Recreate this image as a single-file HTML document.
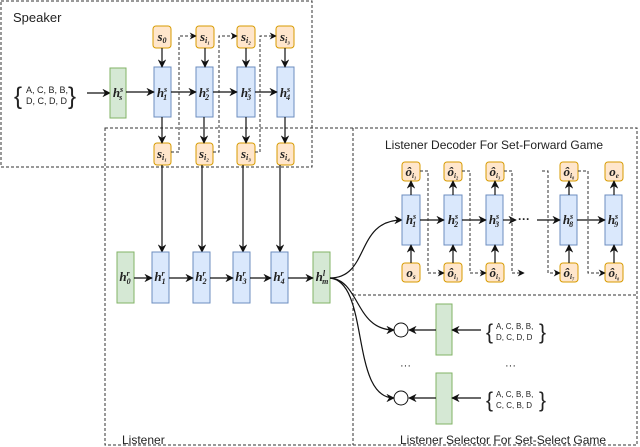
<!DOCTYPE html>
<html><head><meta charset="utf-8"><style>
body{margin:0;background:#fff}
svg{display:block}
text{font-family:"Liberation Sans",sans-serif;fill:#222}
.m{font-family:"Liberation Serif",serif;font-style:italic;font-weight:bold;font-size:13px;text-anchor:middle}
.b{fill:#dae8fc;stroke:#6c8ebf;stroke-width:1}
.g{fill:#d5e8d4;stroke:#82b366;stroke-width:1}
.o{fill:#ffe6cc;stroke:#d79b00;stroke-width:1}
.d{fill:none;stroke:#333;stroke-width:1;stroke-dasharray:3,2}
.l{fill:none;stroke:#111;stroke-width:1.2}
</style></head><body>
<svg width="640" height="447" viewBox="0 0 640 447" xmlns="http://www.w3.org/2000/svg">
<defs><marker id="a" viewBox="0 0 10 10" refX="9" refY="5" markerWidth="7" markerHeight="7" orient="auto"><path d="M0,0L10,5L0,10L3,5z" fill="#111"/></marker></defs>
<rect x="1" y="1" width="311" height="166" class="d"/>
<rect x="105" y="128" width="532" height="317" class="d"/>
<line x1="353" y1="128" x2="353" y2="445" class="d"/>
<line x1="353" y1="295" x2="637" y2="295" class="d"/>
<text x="13" y="22" font-size="13">Speaker</text>
<text x="385" y="149" font-size="12">Listener Decoder For Set-Forward Game</text>
<text x="122" y="444" font-size="12">Listener</text>
<text x="400" y="444" font-size="12">Listener Selector For Set-Select Game</text>
<text x="14" y="104" font-size="24">{</text>
<text x="26" y="93" font-size="9">A, C, B, B,</text>
<text x="26" y="104" font-size="9">D, C, D, D</text>
<text x="68" y="104" font-size="24">}</text>
<line x1="87" y1="93" x2="110" y2="93" class="l" marker-end="url(#a)"/>
<rect x="110" y="68" width="16" height="50" class="g"/><text x="118" y="97" class="m">h<tspan font-size="8" dy="-5">s</tspan><tspan font-size="8" dx="-4" dy="8">s</tspan></text>
<g>
<rect x="154" y="67" width="17" height="50" class="b"/><rect x="196" y="67" width="17" height="50" class="b"/><rect x="237" y="67" width="18" height="50" class="b"/><rect x="277" y="67" width="17" height="50" class="b"/>
<text x="162" y="97" class="m">h<tspan font-size="8" dy="-5">s</tspan><tspan font-size="8" dx="-4" dy="8">1</tspan></text>
<text x="204" y="97" class="m">h<tspan font-size="8" dy="-5">s</tspan><tspan font-size="8" dx="-4" dy="8">2</tspan></text>
<text x="246" y="97" class="m">h<tspan font-size="8" dy="-5">s</tspan><tspan font-size="8" dx="-4" dy="8">3</tspan></text>
<text x="285" y="97" class="m">h<tspan font-size="8" dy="-5">s</tspan><tspan font-size="8" dx="-4" dy="8">4</tspan></text>
<line x1="126" y1="92" x2="154" y2="92" class="l" marker-end="url(#a)"/>
<line x1="171" y1="92" x2="196" y2="92" class="l" marker-end="url(#a)"/>
<line x1="213" y1="92" x2="237" y2="92" class="l" marker-end="url(#a)"/>
<line x1="255" y1="92" x2="277" y2="92" class="l" marker-end="url(#a)"/>
<rect x="153" y="26" width="18" height="22" rx="3" class="o"/><rect x="196" y="26" width="18" height="22" rx="3" class="o"/><rect x="237" y="26" width="18" height="22" rx="3" class="o"/><rect x="276" y="26" width="18" height="22" rx="3" class="o"/>
<text x="162" y="41" class="m">s<tspan font-size="8" dy="2">0</tspan></text>
<text x="205" y="41" class="m">s<tspan font-size="8" dy="2">i₁</tspan></text>
<text x="246" y="41" class="m">s<tspan font-size="8" dy="2">i₂</tspan></text>
<text x="285" y="41" class="m">s<tspan font-size="8" dy="2">i₃</tspan></text>
<line x1="162" y1="48" x2="162" y2="67" class="l" marker-end="url(#a)"/>
<line x1="205" y1="48" x2="205" y2="67" class="l" marker-end="url(#a)"/>
<line x1="246" y1="48" x2="246" y2="67" class="l" marker-end="url(#a)"/>
<line x1="285" y1="48" x2="285" y2="67" class="l" marker-end="url(#a)"/>
<rect x="154" y="143" width="17" height="22" rx="3" class="o"/><rect x="196" y="143" width="17" height="22" rx="3" class="o"/><rect x="237" y="143" width="18" height="22" rx="3" class="o"/><rect x="277" y="143" width="17" height="22" rx="3" class="o"/>
<text x="162" y="158" class="m">s<tspan font-size="8" dy="2">i₁</tspan></text>
<text x="204" y="158" class="m">s<tspan font-size="8" dy="2">i₂</tspan></text>
<text x="246" y="158" class="m">s<tspan font-size="8" dy="2">i₃</tspan></text>
<text x="285" y="158" class="m">s<tspan font-size="8" dy="2">i₄</tspan></text>
<line x1="162" y1="117" x2="162" y2="143" class="l" marker-end="url(#a)"/>
<line x1="204" y1="117" x2="204" y2="143" class="l" marker-end="url(#a)"/>
<line x1="246" y1="117" x2="246" y2="143" class="l" marker-end="url(#a)"/>
<line x1="285" y1="117" x2="285" y2="143" class="l" marker-end="url(#a)"/>
<path d="M171,152H179V36H196" class="d" marker-end="url(#a)"/>
<path d="M213,152H219V36H237" class="d" marker-end="url(#a)"/>
<path d="M255,152H260V36H276" class="d" marker-end="url(#a)"/>
</g>
<line x1="162" y1="165" x2="162" y2="252" class="l" marker-end="url(#a)"/>
<line x1="202" y1="165" x2="202" y2="252" class="l" marker-end="url(#a)"/>
<line x1="243" y1="165" x2="243" y2="252" class="l" marker-end="url(#a)"/>
<line x1="280" y1="165" x2="280" y2="252" class="l" marker-end="url(#a)"/>
<rect x="117" y="252" width="17" height="51" class="g"/><rect x="152" y="252" width="17" height="51" class="b"/><rect x="193" y="252" width="17" height="51" class="b"/><rect x="233" y="252" width="17" height="51" class="b"/><rect x="271" y="252" width="17" height="51" class="b"/><rect x="313" y="252" width="17" height="51" class="g"/>
<text x="125" y="281" class="m">h<tspan font-size="8" dy="-5">r</tspan><tspan font-size="8" dx="-3" dy="8">0</tspan></text>
<text x="160" y="281" class="m">h<tspan font-size="8" dy="-5">r</tspan><tspan font-size="8" dx="-3" dy="8">1</tspan></text>
<text x="201" y="281" class="m">h<tspan font-size="8" dy="-5">r</tspan><tspan font-size="8" dx="-3" dy="8">2</tspan></text>
<text x="241" y="281" class="m">h<tspan font-size="8" dy="-5">r</tspan><tspan font-size="8" dx="-3" dy="8">3</tspan></text>
<text x="279" y="281" class="m">h<tspan font-size="8" dy="-5">r</tspan><tspan font-size="8" dx="-3" dy="8">4</tspan></text>
<text x="322" y="281" class="m">h<tspan font-size="8" dy="-5">l</tspan><tspan font-size="8" dx="-3" dy="8">m</tspan></text>
<line x1="134" y1="278" x2="152" y2="278" class="l" marker-end="url(#a)"/>
<line x1="169" y1="278" x2="193" y2="278" class="l" marker-end="url(#a)"/>
<line x1="210" y1="278" x2="233" y2="278" class="l" marker-end="url(#a)"/>
<line x1="250" y1="278" x2="271" y2="278" class="l" marker-end="url(#a)"/>
<line x1="288" y1="278" x2="313" y2="278" class="l" marker-end="url(#a)"/>
<path d="M330,278C370,278 355,220 402,220" class="l" marker-end="url(#a)"/>
<path d="M330,278C360,280 355,330 394,330" class="l" marker-end="url(#a)"/>
<path d="M330,278C370,282 350,398 394,398" class="l" marker-end="url(#a)"/>
<g>
<rect x="402" y="195" width="18" height="50" class="b"/><rect x="444" y="195" width="18" height="50" class="b"/><rect x="486" y="195" width="17" height="50" class="b"/><rect x="560" y="195" width="17" height="50" class="b"/><rect x="605" y="195" width="17" height="50" class="b"/>
<text x="411" y="224" class="m">h<tspan font-size="8" dy="-5">s</tspan><tspan font-size="8" dx="-4" dy="8">1</tspan></text>
<text x="453" y="224" class="m">h<tspan font-size="8" dy="-5">s</tspan><tspan font-size="8" dx="-4" dy="8">2</tspan></text>
<text x="494" y="224" class="m">h<tspan font-size="8" dy="-5">s</tspan><tspan font-size="8" dx="-4" dy="8">3</tspan></text>
<text x="568" y="224" class="m">h<tspan font-size="8" dy="-5">s</tspan><tspan font-size="8" dx="-4" dy="8">8</tspan></text>
<text x="613" y="224" class="m">h<tspan font-size="8" dy="-5">s</tspan><tspan font-size="8" dx="-4" dy="8">9</tspan></text>
<line x1="420" y1="220" x2="444" y2="220" class="l" marker-end="url(#a)"/>
<line x1="462" y1="220" x2="486" y2="220" class="l" marker-end="url(#a)"/>
<line x1="503" y1="220" x2="516" y2="220" class="l" marker-end="url(#a)"/>
<text x="518" y="223" font-size="12" font-weight="bold">···</text>
<line x1="537" y1="220" x2="560" y2="220" class="l" marker-end="url(#a)"/>
<line x1="577" y1="220" x2="605" y2="220" class="l" marker-end="url(#a)"/>
<rect x="402" y="162" width="18" height="19" rx="3" class="o"/><rect x="444" y="162" width="18" height="19" rx="3" class="o"/><rect x="486" y="162" width="18" height="19" rx="3" class="o"/><rect x="560" y="162" width="18" height="19" rx="3" class="o"/><rect x="605" y="162" width="18" height="19" rx="3" class="o"/>
<text x="411" y="176" class="m">ô<tspan font-size="7" dy="2">i₁</tspan></text>
<text x="453" y="176" class="m">ô<tspan font-size="7" dy="2">i₂</tspan></text>
<text x="495" y="176" class="m">ô<tspan font-size="7" dy="2">i₃</tspan></text>
<text x="569" y="176" class="m">ô<tspan font-size="7" dy="2">i₈</tspan></text>
<text x="614" y="176" class="m">o<tspan font-size="7" dy="2">e</tspan></text>
<rect x="402" y="263" width="18" height="19" rx="3" class="o"/><rect x="444" y="263" width="18" height="19" rx="3" class="o"/><rect x="486" y="263" width="18" height="19" rx="3" class="o"/><rect x="560" y="263" width="18" height="19" rx="3" class="o"/><rect x="605" y="263" width="18" height="19" rx="3" class="o"/>
<text x="411" y="277" class="m">o<tspan font-size="7" dy="2">s</tspan></text>
<text x="453" y="277" class="m">ô<tspan font-size="7" dy="2">i₁</tspan></text>
<text x="495" y="277" class="m">ô<tspan font-size="7" dy="2">i₂</tspan></text>
<text x="569" y="277" class="m">ô<tspan font-size="7" dy="2">i₇</tspan></text>
<text x="614" y="277" class="m">ô<tspan font-size="7" dy="2">i₈</tspan></text>
<line x1="411" y1="195" x2="411" y2="181" class="l" marker-end="url(#a)"/>
<line x1="453" y1="195" x2="453" y2="181" class="l" marker-end="url(#a)"/>
<line x1="495" y1="195" x2="495" y2="181" class="l" marker-end="url(#a)"/>
<line x1="569" y1="195" x2="569" y2="181" class="l" marker-end="url(#a)"/>
<line x1="614" y1="195" x2="614" y2="181" class="l" marker-end="url(#a)"/>
<line x1="411" y1="263" x2="411" y2="245" class="l" marker-end="url(#a)"/>
<line x1="453" y1="263" x2="453" y2="245" class="l" marker-end="url(#a)"/>
<line x1="495" y1="263" x2="495" y2="245" class="l" marker-end="url(#a)"/>
<line x1="569" y1="263" x2="569" y2="245" class="l" marker-end="url(#a)"/>
<line x1="614" y1="263" x2="614" y2="245" class="l" marker-end="url(#a)"/>
<path d="M420,171H428V273H444" class="d" marker-end="url(#a)"/>
<path d="M462,171H470V273H486" class="d" marker-end="url(#a)"/>
<path d="M504,171H512V273H524" class="d" marker-end="url(#a)"/>
<path d="M542,171H548V273H560" class="d" marker-end="url(#a)"/>
<path d="M578,171H588V273H605" class="d" marker-end="url(#a)"/>
</g>
<circle cx="401" cy="330" r="7" fill="#fff" stroke="#111"/>
<circle cx="401" cy="398" r="7" fill="#fff" stroke="#111"/>
<rect x="436" y="304" width="16" height="51" class="g"/>
<rect x="436" y="373" width="16" height="51" class="g"/>
<line x1="436" y1="330" x2="409" y2="330" class="l" marker-end="url(#a)"/>
<line x1="436" y1="398" x2="409" y2="398" class="l" marker-end="url(#a)"/>
<line x1="481" y1="330" x2="452" y2="330" class="l" marker-end="url(#a)"/>
<line x1="481" y1="398" x2="452" y2="398" class="l" marker-end="url(#a)"/>
<text x="400" y="369" font-size="11">···</text>
<text x="505" y="369" font-size="11">···</text>
<text x="486" y="339" font-size="21">{</text>
<text x="496" y="329" font-size="8">A, C, B, B,</text>
<text x="496" y="340" font-size="8">D, C, D, D</text>
<text x="539" y="339" font-size="21">}</text>
<text x="486" y="407" font-size="21">{</text>
<text x="496" y="397" font-size="8">A, C, B, B,</text>
<text x="496" y="408" font-size="8">C, C, B, D</text>
<text x="539" y="407" font-size="21">}</text>
</svg>
</body></html>
